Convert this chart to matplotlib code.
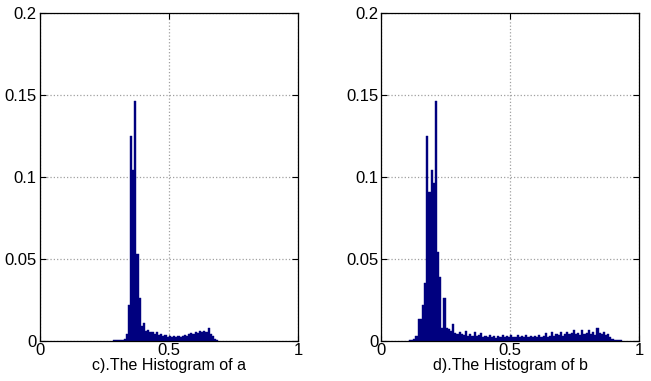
import matplotlib
matplotlib.use("Agg")
import matplotlib.pyplot as plt
import numpy as np

plt.rcParams['font.family'] = ['Liberation Sans', 'DejaVu Sans']

# histogram on 120 equal bins over [0, 1]; values are bin heights (fraction of pixels)
N_BINS = 120

# histogram of a : first bin index 34
a_start = 34
a_values = [
    0.0005, 0.0005, 0.0005, 0.0005, 0.0005, 0.0008,              # 34-39
    0.004, 0.022, 0.125, 0.104, 0.146, 0.053, 0.026, 0.009,      # 40-47
    0.0105, 0.006, 0.0065, 0.005, 0.0055, 0.004, 0.005, 0.0035,  # 48-55
    0.004, 0.003, 0.0035, 0.0025, 0.003, 0.0025, 0.003, 0.0025,  # 56-63
    0.003, 0.0025, 0.003, 0.0035, 0.003, 0.004, 0.0045, 0.004,   # 64-71
    0.005, 0.0045, 0.006, 0.005, 0.006, 0.005, 0.0075, 0.004,    # 72-79
    0.003, 0.001, 0.0005,                                        # 80-82
]

# histogram of b : first bin index 13
b_start = 13
b_values = [
    0.0003, 0.0005, 0.001, 0.003, 0.013, 0.013, 0.022, 0.035,    # 13-20
    0.125, 0.091, 0.104, 0.096, 0.146, 0.054, 0.039, 0.008,      # 21-28
    0.026, 0.008, 0.007, 0.006, 0.010, 0.0045, 0.004, 0.0055,    # 29-36
    0.004, 0.0035, 0.006, 0.003, 0.004, 0.003, 0.0055, 0.003,    # 37-44
    0.0035, 0.0045, 0.002, 0.003, 0.002, 0.0035, 0.002, 0.003,   # 45-52
    0.0015, 0.003, 0.002, 0.0035, 0.002, 0.003, 0.002, 0.0035,   # 53-60
    0.002, 0.0025, 0.0035, 0.002, 0.003, 0.002, 0.0035, 0.002,   # 61-68
    0.003, 0.0025, 0.003, 0.002, 0.0035, 0.0025, 0.003, 0.0045,  # 69-76
    0.0025, 0.003, 0.005, 0.003, 0.004, 0.0035, 0.005, 0.003,    # 77-84
    0.004, 0.0055, 0.004, 0.0045, 0.0065, 0.004, 0.0045, 0.0035, # 85-92
    0.0065, 0.004, 0.0045, 0.0065, 0.004, 0.005, 0.0035, 0.0075, # 93-100
    0.0045, 0.004, 0.005, 0.0035, 0.004, 0.002, 0.001, 0.0005,   # 101-108
    0.0005, 0.0005, 0.0005,                                      # 109-111
]

y_ticks = [0, 0.05, 0.1, 0.15, 0.2]
y_labels = ["0", "0.05", "0.1", "0.15", "0.2"]
x_ticks = [0, 0.5, 1]
x_labels = ["0", "0.5", "1"]
titles = ["c).The Histogram of a", "d).The Histogram of b"]

BAR_COLOR = "#00007F"


def draw_hist(ax, start, values, label):
    width = 1.0 / N_BINS
    idx = np.arange(start, start + len(values))
    ax.bar(idx * width, values, width=width, align='edge',
           color=BAR_COLOR, edgecolor=BAR_COLOR, linewidth=0.3, zorder=2)

    ax.set_xlim(0, 1)
    ax.set_ylim(0, 0.2)
    ax.set_xticks(x_ticks)
    ax.set_xticklabels(x_labels)
    ax.set_yticks(y_ticks)
    ax.set_yticklabels(y_labels)
    ax.tick_params(direction='in', length=4, width=0.8, labelsize=12,
                   top=True, right=True, pad=2)
    ax.grid(True, linestyle=':', color='#a0a0a0', linewidth=0.9, zorder=0)
    ax.set_axisbelow(True)
    for spine in ax.spines.values():
        spine.set_linewidth(0.9)
        spine.set_color('black')
    ax.set_xlabel(label, fontsize=11.5, labelpad=-0.5)


fig = plt.figure(figsize=(6.51, 3.81), dpi=100)
ax1 = fig.add_axes([0.0607, 0.1058, 0.397, 0.860])
ax2 = fig.add_axes([0.5853, 0.1058, 0.397, 0.860])

draw_hist(ax1, a_start, a_values, titles[0])
draw_hist(ax2, b_start, b_values, titles[1])

fig.savefig("out.png", dpi=100)
plt.close(fig)
